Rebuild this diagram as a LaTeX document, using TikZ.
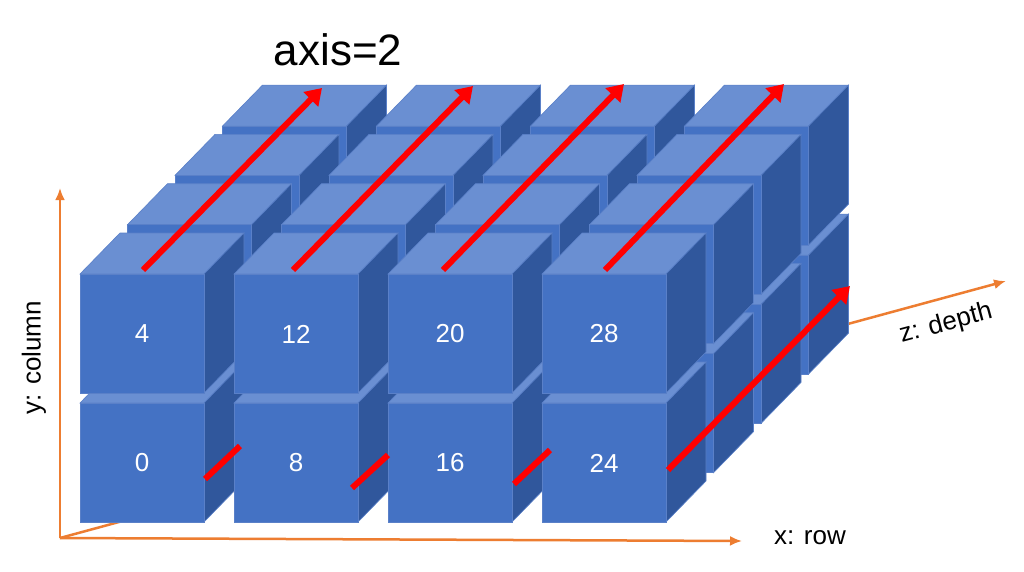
\documentclass[tikz,border=0pt]{standalone}
\usepackage{fontspec}
\setmainfont{Liberation Sans}
\begin{document}
\begin{tikzpicture}[x=1pt,y=-1pt,
  topf/.style={fill=cubetop,draw=cubeedge,line width=0.6pt},
  sidef/.style={fill=cubeside,draw=cubeedge,line width=0.6pt},
  frontf/.style={fill=cubefront,draw=cubeedge,line width=0.6pt},
  axisline/.style={draw=axisor,line width=2.5pt,-{Latex[length=12pt,width=10pt]}},
  redline/.style={draw=red,line width=6pt},
  redarrow/.style={redline,-{Triangle[length=16pt,width=20pt]}},
  numlbl/.style={text=white,font=\fontsize{26}{30}\selectfont},
  axlbl/.style={font=\fontsize{26}{30}\selectfont}]
\usetikzlibrary{arrows.meta}
\definecolor{cubefront}{HTML}{4472C4}
\definecolor{cubetop}{HTML}{6A8FD2}
\definecolor{cubeside}{HTML}{30579C}
\definecolor{cubeedge}{HTML}{5A80C8}
\definecolor{axisor}{HTML}{ED7D31}
\useasboundingbox (0,0) rectangle (1024,572);
\fill[white] (0,0) rectangle (1024,572);
% axes
\coordinate (O) at (60,538);
\coordinate (Y) at (60,188);
\coordinate (X) at (742,541);
\coordinate (Z) at (1006,281);
\draw[axisline] (O) -- (Y);
\draw[axisline] (O) -- (X);
\draw[axisline] (O) -- (Z);
% cubes
\foreach \k in {3,2,1,0}{
 \foreach \j in {0,1}{
  \foreach \i in {0,1,2,3}{
   \pgfmathsetmacro\cx{80+154*\i+47.5*\k}
   \pgfmathsetmacro\cy{403-129*\j-49.3*\k}
   \filldraw[topf] (\cx,\cy) -- ++(40,-41) -- ++(124,0) -- ++(-40,41) -- cycle;
   \filldraw[sidef] (\cx+124,\cy) -- ++(40,-41) -- ++(0,119) -- ++(-40,41) -- cycle;
   \filldraw[frontf] (\cx,\cy) rectangle ++(124,119);
  }}}
\foreach \i/\a/\b in {0/0/4,1/8/12,2/16/20,3/24/28}{
  \node[numlbl] (b\i) at (142+154*\i,463) {\a};
  \node[numlbl] (t\i) at (142+154*\i,334) {\b};
}
% red arrows
\foreach \i/\sx/\ex/\ey in {0/143/322/88,1/293/473/86,2/443/624/84,3/605/784/84}{
  \coordinate (s\i) at (\sx,270);
  \coordinate (e\i) at (\ex,\ey);
  \draw[redarrow] (s\i) -- (e\i);
}
\foreach \n/\ax/\ay/\bx/\by in {0/205/479/240/446,1/352/488/388/455,2/514/484/550/450}{
  \coordinate (g\n) at (\ax,\ay);
  \coordinate (h\n) at (\bx,\by);
  \draw[redline] (g\n) -- (h\n);
}
\coordinate (ls) at (668,470);
\coordinate (le) at (850,286);
\draw[redarrow] (ls) -- (le);
% labels
\node[font=\fontsize{44}{50}\selectfont] (title) at (338,50) {axis=2};
\node[axlbl] (xl) at (810,538) {x: row};
\node[axlbl,rotate=90] (yl) at (34,358) {y: column};
\node[axlbl,rotate=15] (zl) at (946,324) {z: depth};
\end{tikzpicture}
\end{document}
